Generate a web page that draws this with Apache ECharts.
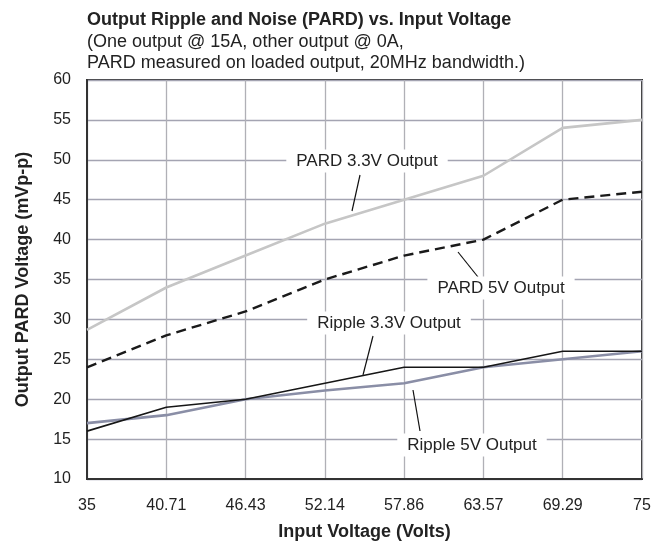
<!DOCTYPE html>
<html>
<head>
<meta charset="utf-8">
<script src="https://cdn.jsdelivr.net/npm/echarts@6/dist/echarts.min.js"></script>
<style>
  html, body { margin: 0; padding: 0; background: #fff; }
  #chart { width: 659px; height: 546px; }
</style>
</head>
<body>
<div id="chart"></div>
<script>
// Input voltage steps (V)
var inputVoltage = ['35', '40.71', '46.43', '52.14', '57.86', '63.57', '69.29', '75'];

// Output PARD, mVp-p
var pard33 = [28.7, 34, 38, 42, 45, 48, 54, 55];
var pard5 = [24, 28, 31, 35, 38, 40, 45, 46];
var ripple33 = [16, 19, 20, 22, 24, 24, 26, 26];
var ripple5 = [17, 18, 20, 21.1, 22, 24, 25, 26];

var yTicks = { min: 10, max: 60, step: 5 };

var FONT = '"Liberation Sans", Arial, Helvetica, sans-serif';

var chart = echarts.init(document.getElementById('chart'), null, { renderer: 'canvas' });

// Callout labels with short leader lines
function callout(text, cx, cy, x1, y1, x2, y2) {
  return [
    {
      type: 'line', z: 100,
      shape: { x1: x1, y1: y1, x2: x2, y2: y2 },
      style: { stroke: '#111', lineWidth: 1.2 }
    },
    {
      type: 'text', z: 101,
      x: cx, y: cy,
      style: {
        text: text, fill: '#222', font: '17px ' + FONT,
        align: 'center', verticalAlign: 'middle',
        backgroundColor: '#fff', padding: [3, 10, 3, 10]
      }
    }
  ];
}

var graphics = [].concat(
  callout('PARD 3.3V Output', 367, 161, 352, 211, 360, 175),
  callout('PARD 5V Output', 501, 288, 458, 252, 478, 277),
  callout('Ripple 3.3V Output', 389, 323, 363, 375, 373, 336),
  callout('Ripple 5V Output', 472, 445, 413, 390, 420, 431),
  [
    {
      type: 'text', left: 87, top: 11,
      style: { text: 'Output Ripple and Noise (PARD) vs. Input Voltage', fill: '#222', font: 'bold 18px ' + FONT }
    },
    {
      type: 'text', left: 87, top: 32,
      style: {
        text: '(One output @ 15A, other output @ 0A,\nPARD measured on loaded output, 20MHz bandwidth.)',
        fill: '#222', font: '18px ' + FONT, lineHeight: 21
      }
    }
  ]
);

var option = {
  backgroundColor: '#fff',
  animation: false,
  grid: {
    left: 87, right: 17, top: 80, bottom: 62,
    show: true, borderColor: '#333', borderWidth: 2, containLabel: false
  },
  xAxis: {
    type: 'category',
    data: inputVoltage,
    boundaryGap: false,
    name: 'Input Voltage (Volts)',
    nameLocation: 'middle',
    nameGap: 44,
    nameTextStyle: { fontFamily: FONT, fontWeight: 'bold', fontSize: 18, color: '#222' },
    axisLine: { lineStyle: { color: '#333', width: 2 } },
    axisTick: { show: false },
    axisLabel: { fontFamily: FONT, fontSize: 16, color: '#222', margin: 19 },
    splitLine: { show: true, lineStyle: { color: '#b0b0b6', width: 1.3 } }
  },
  yAxis: {
    type: 'value',
    min: yTicks.min, max: yTicks.max, interval: yTicks.step,
    name: 'Output PARD Voltage (mVp-p)',
    nameLocation: 'middle',
    nameGap: 55,
    nameRotate: 90,
    nameTextStyle: { fontFamily: FONT, fontWeight: 'bold', fontSize: 18, color: '#222' },
    axisLine: { show: true, lineStyle: { color: '#333', width: 2 } },
    axisTick: { show: false },
    axisLabel: { fontFamily: FONT, fontSize: 16, color: '#222', margin: 16, padding: [4, 0, 0, 0] },
    splitLine: { show: true, lineStyle: { color: '#a4a4b2', width: 1.3 } }
  },
  series: [
    {
      name: 'PARD 3.3V Output', type: 'line', data: pard33,
      symbol: 'none', lineStyle: { color: '#c6c6c6', width: 2.6 }, z: 3
    },
    {
      name: 'PARD 5V Output', type: 'line', data: pard5,
      symbol: 'none', lineStyle: { color: '#1a1a1a', width: 2.4, type: [10, 6] }, z: 4
    },
    {
      name: 'Ripple 5V Output', type: 'line', data: ripple5,
      symbol: 'none', lineStyle: { color: '#8a8ea6', width: 2.6 }, z: 3
    },
    {
      name: 'Ripple 3.3V Output', type: 'line', data: ripple33,
      symbol: 'none', lineStyle: { color: '#161616', width: 1.6 }, z: 5
    }
  ],
  graphic: graphics
};

chart.setOption(option);
</script>
</body>
</html>
